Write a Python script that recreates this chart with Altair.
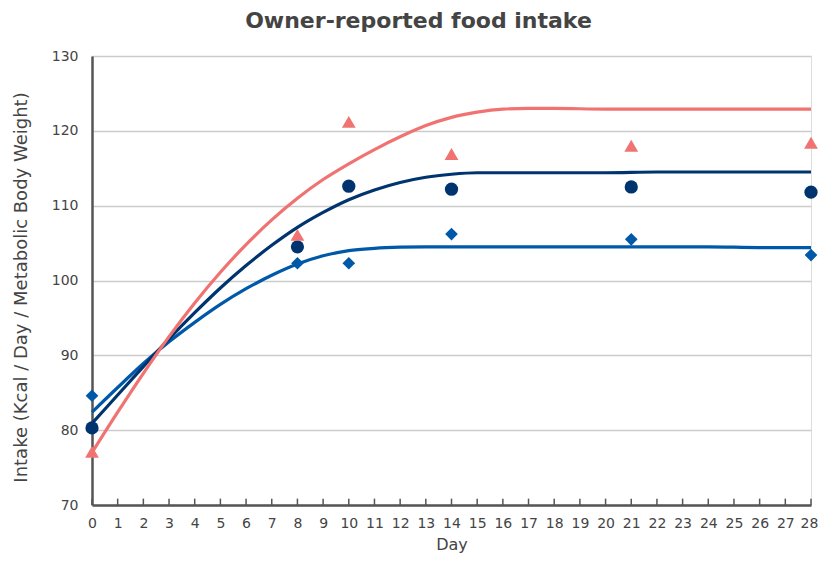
import altair as alt
import pandas as pd

# Observed data
obs_days = [0, 8, 10, 14, 21, 28]
tri_vals = [77.1, 106.1, 121.2, 116.9, 118.0, 118.4]
circ_vals = [80.3, 104.5, 112.6, 112.2, 112.5, 111.8]
diam_vals = [84.6, 102.3, 102.3, 106.2, 105.5, 103.4]

# Fitted curves
fit_days = [0, 1, 2, 3, 4, 5, 6, 7, 8, 9, 10, 11, 12, 13, 14, 15, 16, 17, 18, 20, 22, 24, 26, 28]
pink_fit = [77.0, 82.4, 87.6, 92.5, 97.0, 101.1, 104.8, 108.1, 111.0, 113.5, 115.6, 117.5, 119.2,
            120.7, 121.8, 122.5, 122.9, 123.0, 123.0, 122.9, 122.9, 122.9, 122.9, 122.9]
navy_fit = [80.9, 84.7, 88.5, 92.2, 95.7, 99.0, 102.0, 104.7, 107.1, 109.1, 110.8, 112.1, 113.1,
            113.8, 114.2, 114.4, 114.4, 114.4, 114.4, 114.4, 114.5, 114.5, 114.5, 114.5]
blue_fit = [82.4, 85.7, 88.9, 91.8, 94.4, 96.8, 98.9, 100.7, 102.2, 103.3, 104.0, 104.3, 104.45,
            104.5, 104.5, 104.5, 104.5, 104.5, 104.5, 104.5, 104.5, 104.5, 104.4, 104.4]

tick_days = list(range(0, 29))
y_ticks = [70, 80, 90, 100, 110, 120, 130]

PINK = "#F07372"
NAVY = "#00346F"
BLUE = "#0059A8"
TEXT = "#444444"
FONT = "DejaVu Sans"

fit_df = pd.DataFrame({"day": fit_days, "pink": pink_fit, "navy": navy_fit, "blue": blue_fit})
obs_df = pd.DataFrame({"day": obs_days, "tri": tri_vals, "circ": circ_vals, "diam": diam_vals})
tick_df = pd.DataFrame({"day": tick_days, "y0": [70] * len(tick_days), "y1": [70.85] * len(tick_days)})

xscale = alt.Scale(domain=[0, 28], nice=False, zero=False)
yscale = alt.Scale(domain=[70, 130], nice=False, zero=False)

xaxis = alt.Axis(values=tick_days, title="Day", grid=False, ticks=False, labelPadding=11,
                 labelOverlap=False, domainColor="#555555", domainWidth=2.5, labelColor=TEXT,
                 labelFontSize=14, labelFont=FONT, titleFont=FONT, titleFontSize=16,
                 titleColor=TEXT, titleFontWeight="normal", titlePadding=6, labelFlush=False,
                 labelOffset=alt.ExprRef("datum.value == 28 ? -2 : 0"), labelBound=False)
yaxis = alt.Axis(values=y_ticks, title="Intake (Kcal / Day / Metabolic Body Weight)", grid=True,
                 gridColor="#cccccc", gridWidth=1.5, ticks=False, domainColor="#555555",
                 domainWidth=2.5, labelColor=TEXT, labelFontSize=14, labelFont=FONT,
                 labelPadding=14, labelOverlap=False, titleFont=FONT, titleFontSize=18,
                 titleColor=TEXT, titleFontWeight="normal", titlePadding=21, titleY=231)

X = alt.X("day:Q", scale=xscale, axis=xaxis)

def fit_line(col, color):
    return alt.Chart(fit_df).mark_line(color=color, strokeWidth=3.2, interpolate="monotone").encode(
        x=X,
        y=alt.Y(f"{col}:Q", scale=yscale, axis=yaxis),
    )

def pts(col, color, shape, size):
    return alt.Chart(obs_df).mark_point(color=color, fill=color, filled=True, opacity=1,
                                        shape=shape, size=size).encode(
        x=X,
        y=alt.Y(f"{col}:Q", scale=yscale, axis=yaxis),
    )

ticks = alt.Chart(tick_df).mark_rule(color="#555555", strokeWidth=1.5).encode(
    x=X,
    y=alt.Y("y0:Q", scale=yscale, axis=yaxis),
    y2="y1:Q",
)

chart = alt.layer(
    fit_line("blue", BLUE),
    fit_line("navy", NAVY),
    fit_line("pink", PINK),
    ticks,
    pts("diam", BLUE, "diamond", 160),
    pts("circ", NAVY, "circle", 175),
    pts("tri", PINK, "triangle-up", 190),
).properties(
    width=719,
    height=449,
    title=alt.TitleParams("Owner-reported food intake", font=FONT, fontSize=22,
                          fontWeight="bold", color=TEXT, anchor="middle", offset=16, dx=-33),
    padding={"left": 84, "top": 48, "right": 8, "bottom": 48},
    autosize=alt.AutoSizeParams(type="none"),
).configure_view(stroke=None).configure(background="white")

chart.save("out.html", embed_options={"renderer": "svg", "actions": False})
